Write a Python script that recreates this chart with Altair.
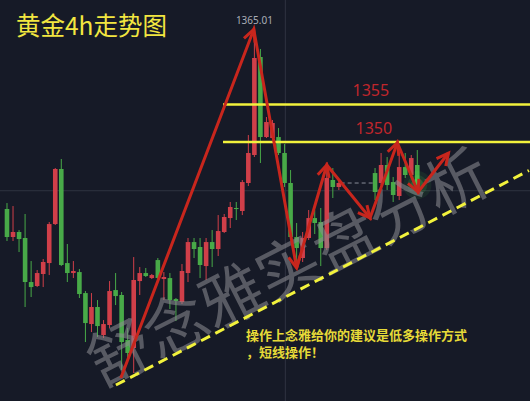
import math

import altair as alt
import numpy as np
import pandas as pd

# ---- canvas / scale setup -------------------------------------------------
W, H = 530, 401
X_DOMAIN = [-0.33, 85.85]          # candle index
Y_DOMAIN = [1315.47, 1368.93]      # price

BG = "#161a27"
UP = "#d03f49"      # rising candle (red)
DOWN = "#48aa48"    # falling candle (green)
ARROW = "#c8261d"
YELLOW = "#f2f23c"
GRID = "#2f3341"

# ---- gold 4h candles --------------------------------------------------------
idx = list(range(0, 56)) + list(range(61, 69))
opens = [1341.06, 1337.33, 1338.00, 1337.20, 1331.33, 1330.80, 1332.40, 1333.86,
         1339.06, 1346.40, 1333.86, 1332.53, 1332.66, 1329.86, 1325.73, 1328.00,
         1324.26, 1325.60, 1330.26, 1329.60, 1323.60, 1322.53, 1331.46, 1332.53,
         1331.86, 1334.26, 1331.73, 1331.86, 1329.06, 1328.66, 1332.53, 1336.66,
         1336.00, 1333.46, 1336.66, 1335.73, 1338.00, 1339.86, 1341.20, 1340.80,
         1344.53, 1348.26, 1361.33, 1350.66, 1350.53, 1350.66, 1348.53, 1344.53,
         1337.33, 1334.53, 1337.20, 1339.86, 1339.33, 1335.86, 1344.93, 1344.00,
         1345.86, 1344.53, 1346.93, 1344.66, 1342.80, 1346.66, 1345.60, 1346.93]
highs = [1341.86, 1341.46, 1338.26, 1340.40, 1334.13, 1332.93, 1334.40, 1339.33,
         1346.53, 1347.73, 1336.40, 1334.13, 1333.06, 1330.13, 1329.86, 1328.93,
         1326.26, 1331.46, 1332.53, 1330.00, 1325.20, 1334.66, 1333.33, 1333.20,
         1332.40, 1334.53, 1332.66, 1332.53, 1329.20, 1333.73, 1337.20, 1337.20,
         1337.20, 1337.20, 1338.26, 1340.26, 1340.40, 1342.00, 1342.00, 1344.93,
         1350.93, 1365.01, 1362.40, 1353.33, 1352.93, 1351.86, 1349.73, 1346.26,
         1339.20, 1338.00, 1340.93, 1340.93, 1341.20, 1346.66, 1346.53, 1344.80,
         1346.53, 1348.53, 1347.99, 1345.33, 1348.26, 1348.53, 1348.26, 1348.93]
lows = [1336.80, 1336.80, 1335.33, 1328.00, 1329.33, 1330.66, 1330.66, 1332.26,
        1338.93, 1333.46, 1331.33, 1331.86, 1329.20, 1323.33, 1324.66, 1324.00,
        1323.86, 1325.20, 1328.26, 1319.60, 1320.93, 1319.20, 1329.60, 1332.00,
        1331.73, 1331.60, 1328.93, 1327.73, 1326.13, 1328.40, 1331.33, 1334.53,
        1331.86, 1331.60, 1333.33, 1334.80, 1337.86, 1338.53, 1339.60, 1340.26,
        1344.13, 1348.00, 1347.20, 1350.53, 1350.26, 1348.26, 1344.00, 1336.93,
        1334.00, 1334.00, 1336.93, 1337.73, 1333.46, 1335.60, 1342.53, 1343.60,
        1342.26, 1344.26, 1343.60, 1342.00, 1342.26, 1345.20, 1345.20, 1343.33]
closes = [1337.33, 1338.00, 1337.06, 1331.33, 1330.66, 1332.53, 1334.00, 1339.06,
          1346.40, 1333.60, 1332.53, 1332.80, 1329.73, 1325.86, 1328.00, 1325.46,
          1325.73, 1330.13, 1329.46, 1323.33, 1321.86, 1331.60, 1332.53, 1332.13,
          1332.26, 1331.86, 1332.00, 1328.93, 1328.80, 1332.80, 1336.66, 1335.73,
          1333.60, 1336.66, 1335.73, 1338.13, 1340.00, 1341.33, 1341.06, 1344.66,
          1348.53, 1361.20, 1350.66, 1352.66, 1352.53, 1348.53, 1344.53, 1337.33,
          1335.86, 1337.20, 1339.86, 1339.20, 1335.86, 1345.20, 1344.00, 1344.53,
          1343.33, 1346.93, 1344.26, 1342.93, 1346.66, 1345.60, 1347.86, 1344.26]

# ---- annotation data ------------------------------------------------------
peak_label = "1365.01"
levels = [1355, 1350]
level_start = 35.8
level_label_x = [60.3, 60.8]

# zig-zag forecast path (candle index, price)
path_i = [18.86, 40.9, 48.0, 53.0, 60.16, 64.7, 68.13, 73.17]
path_p = [1318.53, 1365.0, 1333.2, 1346.93, 1339.87, 1349.9, 1343.33, 1348.53]

# rising support line
trend_i = [18.05, 86.5]
trend_p = [1317.6, 1346.2]

grid_price = 1343.5
grid_index = 46.13

title_text = "黄金4h走势图"
note_lines = ["操作上念雅给你的建议是低多操作方式", "，短线操作！"]
watermark = "舒念雅实盘分析"

# ---- frames -----------------------------------------------------------------
candles = pd.DataFrame(dict(i=idx, o=opens, h=highs, l=lows, c=closes))
candles["dir"] = np.where(candles["c"] >= candles["o"], "up", "down")

xs = alt.Scale(domain=X_DOMAIN, nice=False, zero=False)
ys = alt.Scale(domain=Y_DOMAIN, nice=False, zero=False)
color = alt.Color("dir:N", scale=alt.Scale(domain=["up", "down"], range=[UP, DOWN]), legend=None)


def X(f):
    return alt.X(f, type="quantitative", scale=xs, axis=None)


def Y(f):
    return alt.Y(f, type="quantitative", scale=ys, axis=None)


px_i = W / (X_DOMAIN[1] - X_DOMAIN[0])
px_p = H / (Y_DOMAIN[1] - Y_DOMAIN[0])

path = pd.DataFrame(dict(i=path_i, p=path_p, k=range(len(path_i))))
heads = []
for k in range(1, len(path_i)):
    dx = (path_i[k] - path_i[k - 1]) * px_i
    dy = -(path_p[k] - path_p[k - 1]) * px_p
    ang = math.degrees(math.atan2(dx, -dy)) % 360
    heads.append(dict(i=path_i[k], p=path_p[k], ang=ang))
heads = pd.DataFrame(heads)

# ---- layers -------------------------------------------------------------------
grid_h = alt.Chart(pd.DataFrame(dict(p=[grid_price]))).mark_rule(color=GRID, strokeWidth=1).encode(
    y=Y("p"))
grid_v = alt.Chart(pd.DataFrame(dict(i=[grid_index]))).mark_rule(color=GRID, strokeWidth=1).encode(
    x=X("i"))

wicks = alt.Chart(candles).mark_rule(strokeWidth=1).encode(
    x=X("i"), y=Y("l"), y2="h", color=color)
bodies = alt.Chart(candles).mark_bar(size=4.6).encode(
    x=X("i"), y=Y("o"), y2="c", color=color)

last_before_gap = candles[candles["i"] == 55].iloc[0]
gap_line = alt.Chart(pd.DataFrame(dict(i=[55.3], i2=[60.8], p=[last_before_gap["c"]]))).mark_rule(
    color="#8a8e99", strokeWidth=1, strokeDash=[4, 3]).encode(x=X("i"), x2="i2", y=Y("p"))

last = candles.iloc[-1]
glow_df = pd.DataFrame(dict(i=[last["i"]] * 3, p=[last["c"]] * 3,
                            s=[800, 400, 160], a=[0.07, 0.11, 0.18]))
glow = alt.Chart(glow_df).mark_circle(color="#5cff5c").encode(
    x=X("i"), y=Y("p"), size=alt.Size("s:Q", scale=None), opacity=alt.Opacity("a:Q", scale=None))

level_df = pd.DataFrame(dict(p=levels, i=[level_start] * 2, i2=[X_DOMAIN[1] + 1] * 2,
                             lx=level_label_x, t=[str(v) for v in levels]))
level_lines = alt.Chart(level_df).mark_rule(color=YELLOW, strokeWidth=2.6, clip=True).encode(
    x=X("i"), x2="i2", y=Y("p"))
level_text = alt.Chart(level_df).mark_text(
    font="Noto Sans", fontSize=16, color="#c0262c", dy=-13, baseline="middle").encode(
    x=X("lx"), y=Y("p"), text="t:N")

wm = alt.Chart(pd.DataFrame(dict(t=[watermark]))).mark_text(
    font="Noto Sans CJK SC", fontSize=63, color="#8c8c92", opacity=0.56, angle=333,
    align="center", baseline="middle").encode(
    x=alt.value(290), y=alt.value(271), text="t:N")

trend = alt.Chart(pd.DataFrame(dict(i=trend_i, p=trend_p))).mark_line(
    color=YELLOW, strokeWidth=3, strokeDash=[10, 6], clip=True).encode(x=X("i"), y=Y("p"))

arrow_line = alt.Chart(path).mark_line(color=ARROW, strokeWidth=3, strokeJoin="miter").encode(
    x=X("i"), y=Y("p"), order="k:Q")
arrow_heads = alt.Chart(heads).mark_point(
    shape="M -0.5 1 L 0 0 L 0.5 1", filled=False, color=ARROW, strokeWidth=3,
    size=560, opacity=1, strokeJoin="miter").encode(
    x=X("i"), y=Y("p"), angle=alt.Angle("ang:Q", scale=None))

peak = candles[candles["h"] == candles["h"].max()].iloc[0]
peak_text = alt.Chart(pd.DataFrame(dict(i=[peak["i"]], p=[peak["h"]], t=[peak_label]))).mark_text(
    font="Noto Sans", fontSize=10, color="#a9adb7", dy=-8, baseline="middle").encode(
    x=X("i"), y=Y("p"), text="t:N")

title = alt.Chart(pd.DataFrame(dict(t=[title_text]))).mark_text(
    font="Noto Sans CJK SC", fontSize=24.5, color="#f2e640", align="left", baseline="middle").encode(
    x=alt.value(16), y=alt.value(28), text="t:N")

notes = alt.Chart(pd.DataFrame(dict(t=note_lines, y=[336, 353]))).mark_text(
    font="Noto Sans CJK SC", fontSize=13, fontWeight="bold", color="#e6da38",
    align="left", baseline="middle").encode(
    x=alt.value(246), y=alt.Y("y:Q", scale=None, axis=None), text="t:N")

chart = alt.layer(
    grid_h, grid_v, wicks, bodies, gap_line, glow, level_lines, level_text,
    wm, trend, arrow_line, arrow_heads, peak_text, title, notes,
).properties(
    width=W, height=H, padding=0, autosize="none", background=BG,
).configure_view(stroke=None)

chart.save("out.html", embed_options={"renderer": "svg", "actions": False})
